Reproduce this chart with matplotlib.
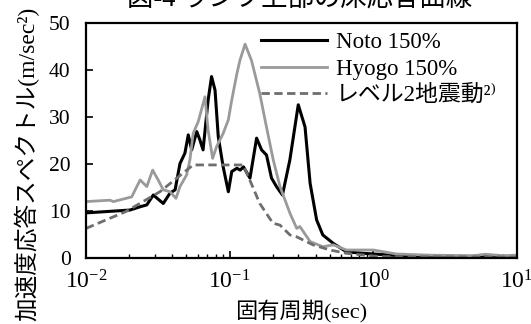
import numpy as np
import matplotlib
matplotlib.use('Agg')
import matplotlib.pyplot as plt

plt.rcParams['font.family'] = ['Liberation Serif', 'Noto Sans CJK JP', 'DejaVu Serif']
plt.rcParams['mathtext.fontset'] = 'stix'

# Noto 150%
noto_T = [0.01, 0.0202, 0.0238, 0.0265, 0.0294, 0.0345, 0.0384, 0.0417, 0.0451, 0.0488,
          0.0515, 0.0544, 0.0590, 0.0621, 0.0653, 0.0708, 0.0748, 0.0791, 0.0833, 0.0901,
          0.0979, 0.1034, 0.1124, 0.1184, 0.1247, 0.1385, 0.1540, 0.1668, 0.1805, 0.1956,
          0.2117, 0.2330, 0.2625, 0.3002, 0.3346, 0.363, 0.403, 0.445, 0.527, 0.651,
          0.85, 1.89, 10.0]
noto_S = [9.6, 10.2, 10.9, 11.3, 13.4, 11.6, 13.8, 14.5, 20.1, 22.3,
          26.2, 23.0, 26.9, 25.1, 23.0, 33.6, 38.6, 35.7, 25.8, 19.4,
          14.1, 18.4, 19.1, 18.7, 19.4, 17.0, 25.5, 23.0, 21.9, 17.0,
          15.2, 13.4, 20.9, 32.6, 27.9, 15.9, 8.1, 4.9, 3.1, 1.3,
          1.0, 0.3, 0.3]

# Hyogo 150%
hyogo_T = [0.01, 0.0147, 0.0155, 0.0208, 0.0238, 0.0265, 0.0291, 0.0318, 0.0345, 0.0384,
           0.0423, 0.0451, 0.0502, 0.0529, 0.0557, 0.0604, 0.0673, 0.0708, 0.0761, 0.0811,
           0.0901, 0.0979, 0.1034, 0.1124, 0.118, 0.128, 0.142, 0.162, 0.18, 0.201,
           0.224, 0.263, 0.293, 0.308, 0.363, 0.445, 0.527, 0.65, 1.0, 1.45,
           2.5, 5.0, 6.0, 8.0, 10.0]
hyogo_S = [12.0, 12.3, 12.0, 13.0, 16.6, 15.2, 18.7, 16.6, 14.5, 14.1,
           12.7, 15.2, 17.7, 20.9, 26.5, 29.0, 34.3, 27.2, 21.2, 23.7,
           26.5, 29.4, 33.6, 39.3, 42.1, 45.5, 42.0, 35.0, 28.0, 20.9,
           15.2, 9.5, 6.3, 6.7, 3.5, 2.4, 2.8, 1.7, 1.7, 0.85,
           0.6, 0.5, 0.8, 0.5, 0.6]

# level 2 design spectrum
lv2_T = [0.01, 0.019, 0.0327, 0.0557, 0.124, 0.138, 0.162, 0.2, 0.224, 0.263,
         0.293, 0.363, 0.38, 0.5, 0.65, 1.1, 10.0]
lv2_S = [6.3, 9.9, 14.1, 19.8, 19.8, 16.6, 11.6, 7.4, 7.0, 4.9,
         4.5, 3.1, 2.8, 1.7, 1.0, 0.3, 0.2]

fig = plt.figure(figsize=(5.31, 3.24), dpi=100)
ax = fig.add_axes([86/531, 1-258/324, (517-86)/531, (258-23)/324])

ax.plot(noto_T, noto_S, color='black', lw=2.2, label='Noto 150%')
ax.plot(hyogo_T, hyogo_S, color='#9a9a9a', lw=2.0, label='Hyogo 150%')
ax.plot(lv2_T, lv2_S, color='#6e6e6e', lw=2.0, ls=(0, (3, 1.6)), label='レベル2地震動²⁾')

ax.set_xscale('log')
ax.set_xlim(0.01, 10)
ax.set_ylim(0, 50)
ax.set_yticks([0, 10, 20, 30, 40, 50])
ax.tick_params(axis='both', which='both', direction='in', top=False, right=False)
ax.tick_params(axis='x', labelsize=17, pad=9)
ax.tick_params(axis='y', labelsize=15.5, pad=11)
ax.tick_params(which='major', length=5, width=1.2)
ax.tick_params(which='minor', length=3, width=1.0)
for s in ax.spines.values():
    s.set_linewidth(1.6)

ax.set_xlabel('固有周期(sec)', fontsize=16, labelpad=4)
ax.set_ylabel('加速度応答スペクトル(m/sec²)', fontsize=17)
ax.yaxis.set_label_coords(-0.107, 0.40)

ax.legend(loc='upper left', bbox_to_anchor=(0.405, 0.96), frameon=False, fontsize=16.5,
          handlelength=2.9, handletextpad=0.4, labelspacing=0.22, borderaxespad=0,
          borderpad=0)

fig.text(0.565, 1.003, '図-4 ランプ上部の床応答曲線', fontsize=19, ha='center', va='center')

fig.savefig('out.png', dpi=100)
